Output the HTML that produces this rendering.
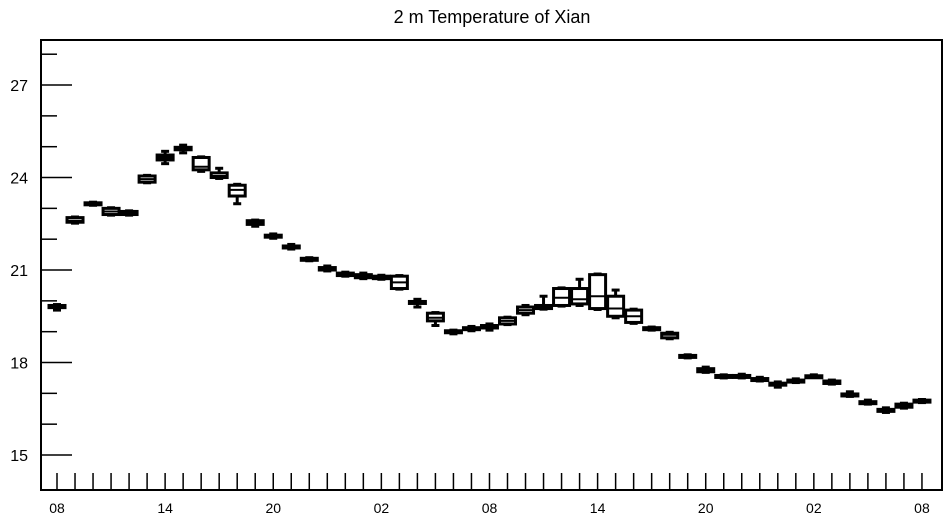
<!DOCTYPE html>
<html><head><meta charset="utf-8"><style>
body{margin:0;background:#fff;font-family:"Liberation Sans",sans-serif}
</style></head><body>
<svg id="c" width="947" height="520" xmlns="http://www.w3.org/2000/svg">
<text x="492" y="23" text-anchor="middle" font-size="18">2 m Temperature of Xian</text>
<rect x="41" y="40" width="901" height="450" fill="none" stroke="#000" stroke-width="2"/>
<g id="ax"></g><g id="marks"></g>
</svg>
<script>
const xLabels=["08","14","20","02","08","14","20","02","08"];
const yTicks=[15,18,21,24,27];
const medians=[19.8,22.6,23.15,22.9,22.85,23.95,24.65,24.95,24.35,24.05,23.6,22.55,22.1,21.75,21.35,21.05,20.85,20.8,20.75,20.6,19.95,19.45,19.0,19.1,19.15,19.35,19.7,19.8,20.1,20.05,20.15,19.75,19.5,19.1,18.9,18.2,17.75,17.55,17.55,17.45,17.3,17.4,17.55,17.35,16.95,16.7,16.45,16.6,16.75];
const q1=[19.78,22.55,23.12,22.8,22.8,23.85,24.57,24.9,24.25,24.0,23.4,22.48,22.07,21.72,21.32,21.0,20.82,20.75,20.72,20.4,19.92,19.35,18.97,19.07,19.12,19.25,19.6,19.75,19.85,19.9,19.75,19.5,19.3,19.07,18.8,18.17,17.7,17.52,17.52,17.42,17.27,17.37,17.53,17.32,16.92,16.67,16.42,16.55,16.72];
const q3=[19.85,22.7,23.18,23.0,22.9,24.05,24.73,24.98,24.65,24.15,23.75,22.6,22.13,21.78,21.38,21.08,20.9,20.85,20.8,20.8,19.98,19.6,19.03,19.13,19.2,19.45,19.8,19.85,20.4,20.4,20.85,20.15,19.7,19.13,18.95,18.23,17.8,17.58,17.58,17.48,17.33,17.43,17.57,17.4,16.98,16.73,16.48,16.65,16.78];
const wLo=[19.7,22.52,23.1,22.78,22.78,23.83,24.45,24.8,24.2,23.97,23.15,22.42,22.03,21.68,21.3,20.97,20.8,20.72,20.7,20.38,19.8,19.2,18.93,19.03,19.05,19.23,19.55,19.73,19.83,19.85,19.72,19.45,19.27,19.05,18.77,18.15,17.68,17.5,17.5,17.4,17.2,17.35,17.52,17.3,16.9,16.65,16.38,16.52,16.7];
const wHi=[19.88,22.72,23.2,23.02,22.92,24.07,24.85,25.05,24.67,24.3,23.78,22.62,22.17,21.83,21.4,21.13,20.93,20.9,20.83,20.82,20.05,19.62,19.05,19.17,19.25,19.47,19.85,20.15,20.42,20.7,20.87,20.35,19.73,19.15,18.98,18.25,17.85,17.6,17.62,17.52,17.37,17.47,17.6,17.43,17.05,16.78,16.53,16.68,16.8];
const X0=57,DX=18.02,Y0=455,DY=30.83;
const xs=i=>X0+DX*i, ys=v=>Y0-(v-15)*DY;
const NS="http://www.w3.org/2000/svg";
function mk(tag,a,p){const e=document.createElementNS(NS,tag);for(const k in a)e.setAttribute(k,a[k]);p.appendChild(e);return e;}
const ax=document.getElementById('ax'),mg=document.getElementById('marks');
for(let v=15;v<=28;v++){const y=ys(v);const major=yTicks.includes(v);
const t=mk('line',{x1:41,x2:major?72:57,y1:y,y2:y,stroke:'#000','stroke-width':1.5},ax);

}
yTicks.forEach(v=>{const t=mk('text',{x:28,y:ys(v)+6,'text-anchor':'end','font-size':16},ax);t.textContent=v;

});
for(let i=0;i<medians.length;i++){const x=xs(i);
const t=mk('line',{x1:x,x2:x,y1:473,y2:490,stroke:'#000','stroke-width':1.5},ax);

}
xLabels.forEach((s,j)=>{const t=mk('text',{x:xs(j*6),y:513,'text-anchor':'middle','font-size':14},ax);t.textContent=s;

});
for(let i=0;i<medians.length;i++){const x=xs(i);const g=mk('g',{stroke:'#000','stroke-width':3,fill:'#fff'},mg);


mk('line',{x1:x,x2:x,y1:ys(wHi[i]),y2:ys(q3[i])},g);
mk('line',{x1:x,x2:x,y1:ys(q1[i]),y2:ys(wLo[i])},g);
mk('line',{x1:x-4,x2:x+4,y1:ys(wHi[i]),y2:ys(wHi[i])},g);
mk('line',{x1:x-4,x2:x+4,y1:ys(wLo[i]),y2:ys(wLo[i])},g);
const h=Math.max(ys(q1[i])-ys(q3[i]),2);
mk('rect',{x:x-8,y:ys(q3[i]),width:16,height:h},g);
mk('line',{x1:x-8,x2:x+8,y1:ys(medians[i]),y2:ys(medians[i]),'stroke-width':2},g);}
</script>
</body></html>
